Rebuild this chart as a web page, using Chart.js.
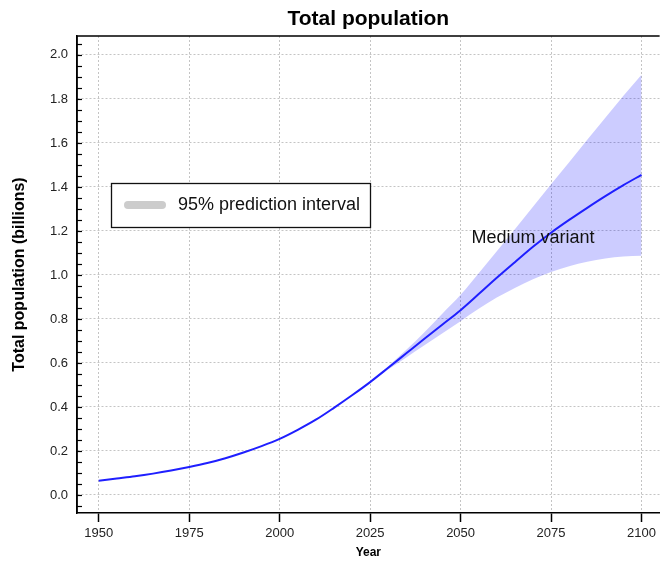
<!DOCTYPE html>
<html>
<head>
<meta charset="utf-8">
<script src="https://cdn.jsdelivr.net/npm/chart.js@4/dist/chart.umd.min.js"></script>
<style>
  html, body { margin: 0; padding: 0; background: #fff; }
  #wrap { width: 660px; height: 563px; }
</style>
</head>
<body>
<div id="wrap"><canvas id="c" width="660" height="563"></canvas></div>
<script>
// ---- data ----
const years = [1950,1955,1960,1965,1970,1975,1980,1985,1990,1995,2000,2005,2010,2015,2020,2025,2030,2035,2040,2045,2050,2055,2060,2065,2070,2075,2080,2085,2090,2095,2100];
const medium = [0.065,0.075,0.085,0.097,0.111,0.127,0.145,0.167,0.193,0.222,0.255,0.296,0.342,0.396,0.453,0.513,0.578,0.644,0.710,0.775,0.840,0.913,0.987,1.058,1.128,1.192,1.250,1.305,1.358,1.408,1.455];
const bandYears = [2025,2030,2035,2040,2045,2050,2055,2060,2065,2070,2075,2080,2085,2090,2095,2100];
const upper95 = [0.513,0.585,0.660,0.740,0.825,0.910,1.008,1.108,1.208,1.310,1.412,1.512,1.614,1.715,1.815,1.910];
const lower95 = [0.513,0.570,0.625,0.680,0.735,0.790,0.846,0.897,0.941,0.980,1.013,1.040,1.060,1.075,1.084,1.087];
const xTicks = [1950,1975,2000,2025,2050,2075,2100];
const yTicks = [0.0,0.2,0.4,0.6,0.8,1.0,1.2,1.4,1.6,1.8,2.0];
const yMinorTicks = [-0.05,0.05,0.10,0.15,0.25,0.30,0.35,0.45,0.50,0.55,0.65,0.70,0.75,0.85,0.90,0.95,1.05,1.10,1.15,1.25,1.30,1.35,1.45,1.50,1.55,1.65,1.70,1.75,1.85,1.90,1.95,2.05];
const titleText = 'Total population';
const xTitle = 'Year';
const yTitle = 'Total population (billions)';
const bandLabel = '95% prediction interval';
const lineLabel = 'Medium variant';
const lineLabelPos = {x: 2053, y: 1.168};

const FONT = "'Liberation Sans', Arial, Helvetica, sans-serif";
Chart.defaults.font.family = FONT;
Chart.defaults.color = '#222';

const pts = (xs, ys) => xs.map((x, i) => ({x: x, y: ys[i]}));

const decor = {
  id: 'decor',
  afterDraw(chart) {
    const {ctx, chartArea: a, scales: {x, y}} = chart;
    ctx.save();
    ctx.setLineDash([]);
    // minor + major inside ticks on y axis
    ctx.strokeStyle = '#000';
    ctx.lineWidth = 1.2;
    [...yMinorTicks, ...yTicks].forEach(v => {
      const py = Math.round(y.getPixelForValue(v)) + 0.5;
      ctx.beginPath();
      ctx.moveTo(a.left, py);
      ctx.lineTo(a.left + 5, py);
      ctx.stroke();
    });
    // frame
    ctx.lineWidth = 1.5;
    ctx.beginPath();
    ctx.moveTo(a.left, a.bottom);
    ctx.lineTo(a.left, a.top);
    ctx.lineTo(a.right, a.top);
    ctx.stroke();
    // legend box
    const bx = a.left + 34, by = a.top + 147, bw = 259, bh = 44;
    ctx.fillStyle = '#fff';
    ctx.fillRect(bx, by, bw, bh);
    ctx.lineWidth = 1.3;
    ctx.strokeStyle = '#111';
    ctx.strokeRect(bx + 0.5, by + 0.5, bw, bh);
    ctx.fillStyle = '#cccccc';
    ctx.beginPath();
    if (ctx.roundRect) ctx.roundRect(bx + 13, by + 18, 42, 8, 4); else ctx.rect(bx + 13, by + 18, 42, 8);
    ctx.fill();
    ctx.fillStyle = '#111';
    ctx.font = '18px ' + FONT;
    ctx.textBaseline = 'middle';
    ctx.textAlign = 'left';
    ctx.fillText(chart.data.datasets[1].label, bx + 67, by + 22);
    // line label
    ctx.fillText(lineLabel, x.getPixelForValue(lineLabelPos.x), y.getPixelForValue(lineLabelPos.y));
    ctx.restore();
  }
};

new Chart(document.getElementById('c'), {
  type: 'line',
  data: {
    datasets: [
      {label: 'upper', data: pts(bandYears, upper95), borderWidth: 0, pointRadius: 0, fill: false, order: 2, cubicInterpolationMode: 'monotone'},
      {label: bandLabel, data: pts(bandYears, lower95), borderWidth: 0, pointRadius: 0, fill: '-1', backgroundColor: 'rgba(0,0,255,0.2)', order: 1, cubicInterpolationMode: 'monotone'},
      {label: lineLabel, data: pts(years, medium), borderColor: '#1f1fff', borderWidth: 2, pointRadius: 0, fill: false, order: 0, cubicInterpolationMode: 'monotone'}
    ]
  },
  options: {
    responsive: false,
    animation: false,
    devicePixelRatio: 1,
    layout: {padding: {left: 0, right: 0, top: 0, bottom: 0}},
    plugins: {
      legend: {display: false},
      tooltip: {enabled: false},
      title: {
        display: true, text: titleText, fullSize: false,
        font: {size: 21, weight: 'bold', lineHeight: 1.2}, color: '#000',
        padding: {top: 7, bottom: 3.8}
      }
    },
    scales: {
      x: {
        type: 'linear', min: 1944, max: 2105,
        afterBuildTicks: s => { s.ticks = xTicks.map(v => ({value: v})); },
        afterFit: s => { s.height = 50; },
        ticks: {font: {size: 13}, color: '#222', padding: 4, callback: v => String(v), maxRotation: 0},
        grid: {color: '#c4c4c4', lineWidth: 1, drawTicks: true, tickLength: 9, tickColor: '#000', tickWidth: 1.5, tickBorderDash: []},
        border: {display: true, color: '#000', width: 1.5, dash: [2, 2]},
        title: {display: true, text: xTitle, font: {size: 12, weight: 'bold'}, color: '#000', padding: {top: 0, bottom: 3}}
      },
      y: {
        type: 'linear', min: -0.082, max: 2.086,
        afterBuildTicks: s => { s.ticks = yTicks.map(v => ({value: v})); },
        afterFit: s => { s.width = 77; },
        ticks: {font: {size: 13}, color: '#222', padding: 9, callback: v => Number(v).toFixed(1)},
        grid: {color: '#c4c4c4', lineWidth: 1, drawTicks: false},
        border: {display: true, color: '#000', width: 1.5, dash: [2, 2]},
        title: {display: true, text: yTitle, font: {size: 16, weight: 'bold'}, color: '#000', padding: {top: 10, bottom: 0}}
      }
    }
  },
  plugins: [decor]
});
</script>
</body>
</html>
